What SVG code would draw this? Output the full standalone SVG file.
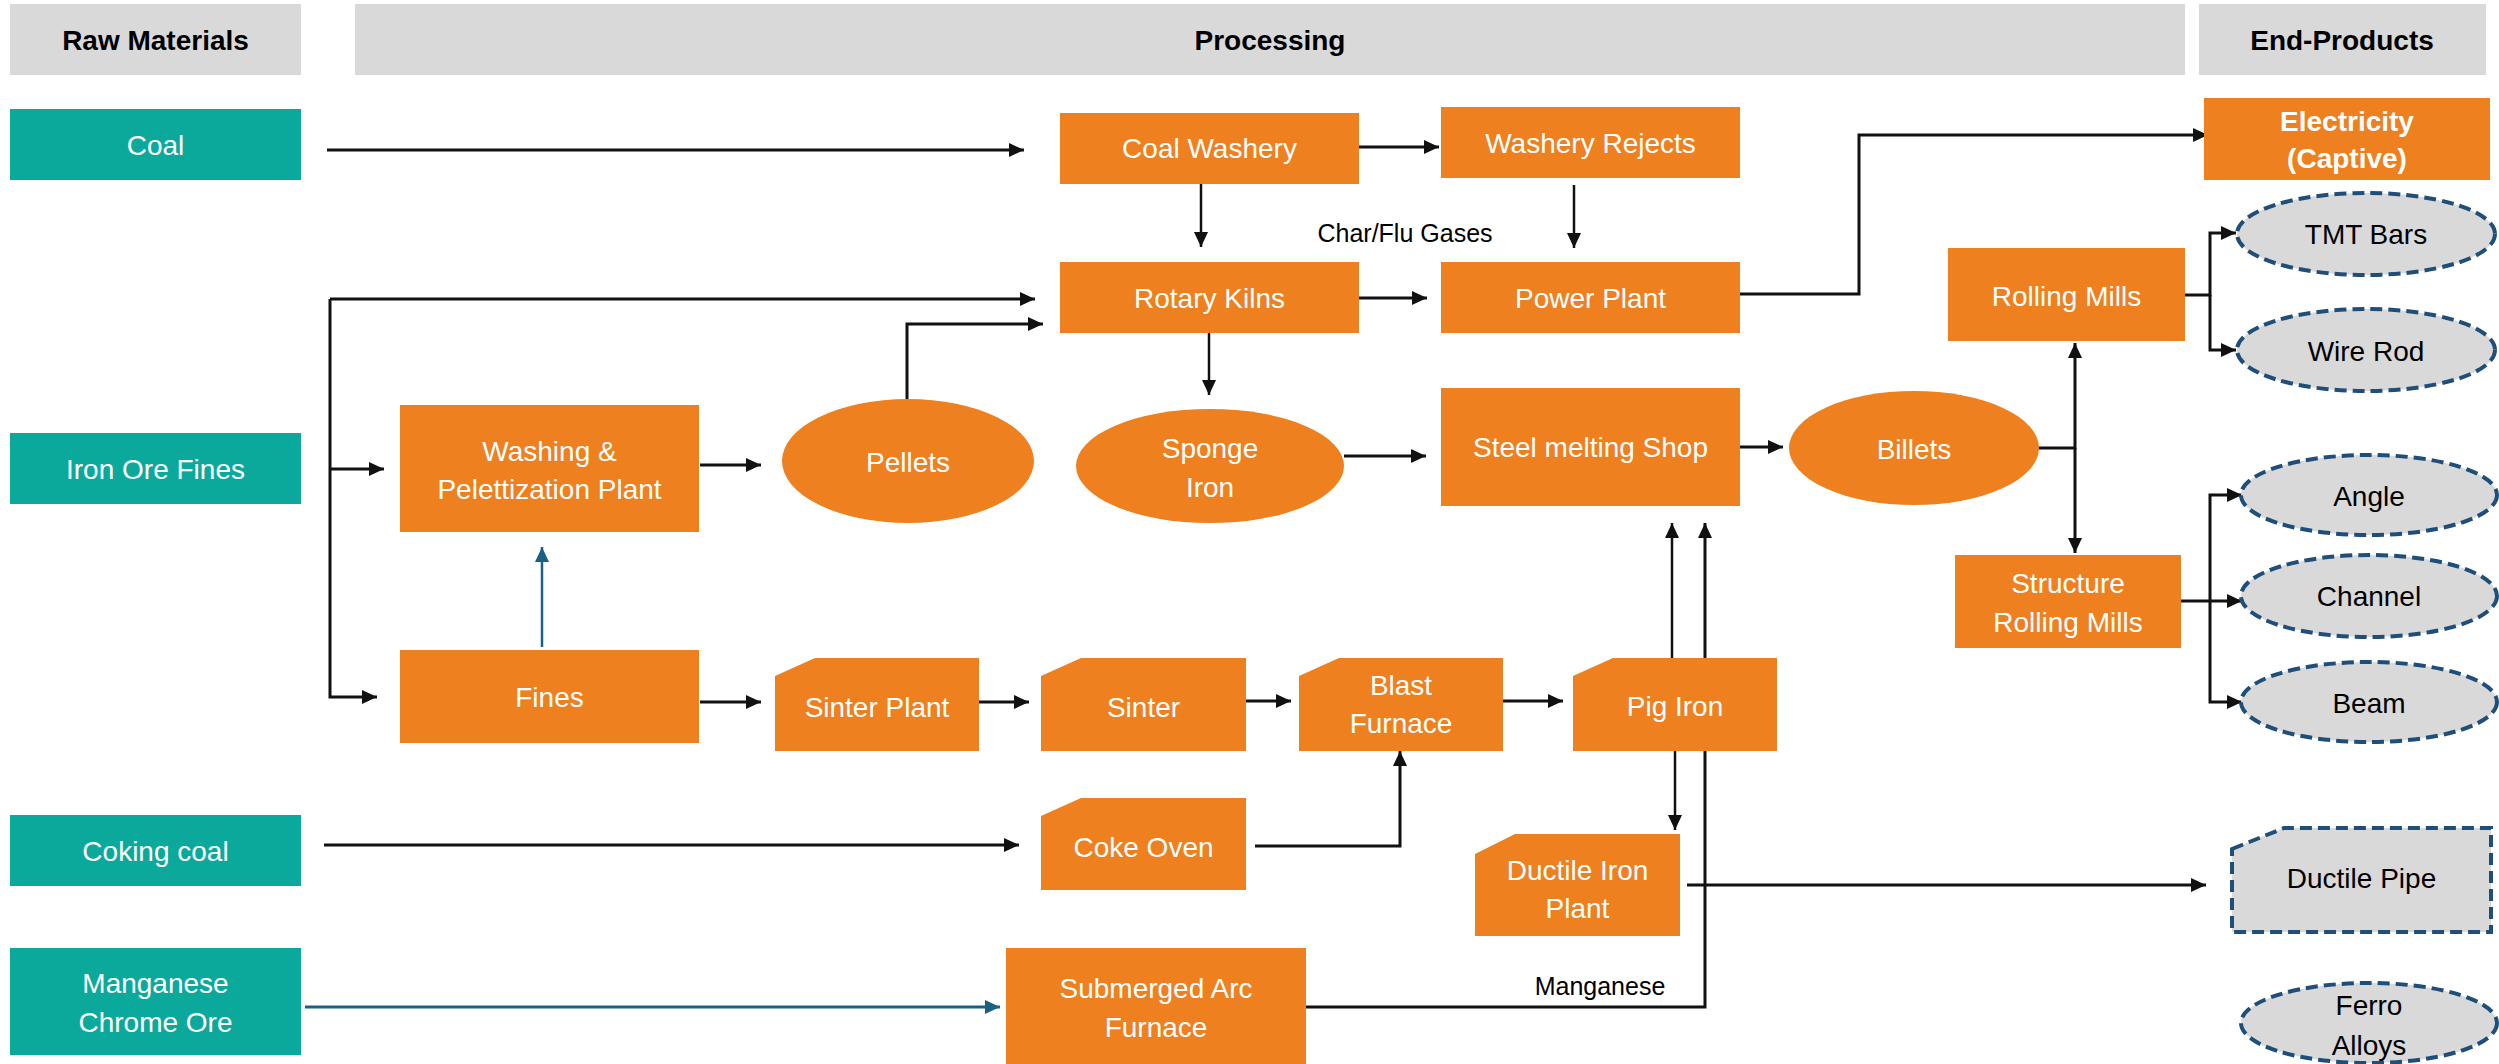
<svg xmlns="http://www.w3.org/2000/svg" width="2499" height="1064" viewBox="0 0 2499 1064">
<style>
.hdr{fill:#D9D9D9}
.raw{fill:#0BA99C}
.proc{fill:#EE801F}
.prod{fill:#D9D9D9;stroke:#1F4E79;stroke-width:4;stroke-dasharray:12 6}
text{font-family:"Liberation Sans",Arial,sans-serif;font-size:28px;text-anchor:middle}
.w{fill:#FFFFFF}
.k{fill:#000000}
.b{font-weight:bold}
.sm{font-size:25px}
.c{fill:none;stroke:#111111;stroke-width:3}
.cb{fill:none;stroke:#1B6184;stroke-width:3}
</style>
<defs>
<marker id="ah" markerUnits="userSpaceOnUse" markerWidth="16" markerHeight="14" refX="15" refY="7" orient="auto">
<path d="M0,0 L15,7 L0,14 z" fill="#111111"/>
</marker>
<marker id="ahb" markerUnits="userSpaceOnUse" markerWidth="16" markerHeight="14" refX="15" refY="7" orient="auto">
<path d="M0,0 L15,7 L0,14 z" fill="#1B6184"/>
</marker>
</defs>
<rect width="2499" height="1064" fill="#FFFFFF"/>

<g id="connectors">
<path class="c" d="M327,150 H1024" marker-end="url(#ah)"/>
<path class="c" d="M1359,147 H1439" marker-end="url(#ah)"/>
<path class="c" style="stroke-width:2.5" d="M1201,184 V247" marker-end="url(#ah)"/>
<path class="c" style="stroke-width:2.5" d="M1574,185 V248" marker-end="url(#ah)"/>
<path class="c" d="M1359,298 H1427" marker-end="url(#ah)"/>
<path class="c" d="M1740,294 H1859 V135 H2208" marker-end="url(#ah)"/>
<path class="c" style="stroke-width:2.5" d="M1209,333 V395" marker-end="url(#ah)"/>
<path class="c" d="M1344,456 H1426" marker-end="url(#ah)"/>
<path class="c" d="M1740,447 H1783" marker-end="url(#ah)"/>
<path class="c" d="M2031,448 H2075 V343" marker-end="url(#ah)"/>
<path class="c" d="M2075,448 V553" marker-end="url(#ah)"/>
<path class="c" d="M2185,295 H2210 V233 H2236" marker-end="url(#ah)"/>
<path class="c" d="M2210,295 V350 H2236" marker-end="url(#ah)"/>
<path class="c" d="M2181,601 H2242" marker-end="url(#ah)"/>
<path class="c" d="M2210,601 V495 H2242" marker-end="url(#ah)"/>
<path class="c" d="M2210,601 V702 H2242" marker-end="url(#ah)"/>
<path class="c" d="M330,299 H1035" marker-end="url(#ah)"/>
<path class="c" d="M330,299 V697 H377" marker-end="url(#ah)"/>
<path class="c" d="M330,469 H384" marker-end="url(#ah)"/>
<path class="c" d="M907,399 V324 H1043" marker-end="url(#ah)"/>
<path class="c" d="M700,465 H761" marker-end="url(#ah)"/>
<path class="cb" style="stroke-width:2.5" d="M542,647 V547" marker-end="url(#ahb)"/>
<path class="c" d="M700,702 H761" marker-end="url(#ah)"/>
<path class="c" d="M979,702 H1029" marker-end="url(#ah)"/>
<path class="c" d="M1246,701 H1291" marker-end="url(#ah)"/>
<path class="c" d="M1503,701 H1563" marker-end="url(#ah)"/>
<path class="c" style="stroke-width:2.5" d="M1672,658 V523" marker-end="url(#ah)"/>
<path class="c" style="stroke-width:2.5" d="M1675,751 V830" marker-end="url(#ah)"/>
<path class="c" d="M1306,1007 H1705 V523" marker-end="url(#ah)"/>
<path class="c" d="M1687,885 H2206" marker-end="url(#ah)"/>
<path class="c" d="M1255,846 H1400 V751" marker-end="url(#ah)"/>
<path class="c" d="M324,845 H1019" marker-end="url(#ah)"/>
<path class="cb" d="M305,1007 H1000" marker-end="url(#ahb)"/>
<text class="k sm" x="1405" y="242">Char/Flu Gases</text>
<text class="k sm" x="1600" y="995">Manganese</text>
</g>

<g id="hdr-raw"><rect class="hdr" x="10" y="4" width="291" height="71"/><text class="k b" x="155.5" y="50">Raw Materials</text></g>
<g id="hdr-proc"><rect class="hdr" x="355" y="4" width="1830" height="71"/><text class="k b" x="1270" y="50">Processing</text></g>
<g id="hdr-prod"><rect class="hdr" x="2199" y="4" width="287" height="71"/><text class="k b" x="2342" y="50">End-Products</text></g>

<g id="coal"><rect class="raw" x="10" y="109" width="291" height="71"/><text class="w" x="155.5" y="155">Coal</text></g>
<g id="iron-ore"><rect class="raw" x="10" y="433" width="291" height="71"/><text class="w" x="155.5" y="479">Iron Ore Fines</text></g>
<g id="coking-coal"><rect class="raw" x="10" y="815" width="291" height="71"/><text class="w" x="155.5" y="861">Coking coal</text></g>
<g id="mn-ore"><rect class="raw" x="10" y="948" width="291" height="107"/><text class="w" x="155.5" y="993">Manganese</text><text class="w" x="155.5" y="1032">Chrome Ore</text></g>

<g id="coal-washery"><rect class="proc" x="1060" y="113" width="299" height="71"/><text class="w" x="1209.5" y="158">Coal Washery</text></g>
<g id="washery-rejects"><rect class="proc" x="1441" y="107" width="299" height="71"/><text class="w" x="1590.5" y="153">Washery Rejects</text></g>
<g id="rotary-kilns"><rect class="proc" x="1060" y="262" width="299" height="71"/><text class="w" x="1209.5" y="308">Rotary Kilns</text></g>
<g id="power-plant"><rect class="proc" x="1441" y="262" width="299" height="71"/><text class="w" x="1590.5" y="308">Power Plant</text></g>
<g id="electricity"><rect class="proc" x="2204" y="98" width="286" height="82"/><text class="w b" x="2347" y="131">Electricity</text><text class="w b" x="2347" y="168">(Captive)</text></g>

<g id="washing"><rect class="proc" x="400" y="405" width="299" height="127"/><text class="w" x="549.5" y="461">Washing &amp;</text><text class="w" x="549.5" y="499">Pelettization Plant</text></g>
<g id="pellets"><ellipse class="proc" cx="908" cy="461" rx="126" ry="62"/><text class="w" x="908" y="472">Pellets</text></g>
<g id="sponge-iron"><ellipse class="proc" cx="1210" cy="466" rx="134" ry="57"/><text class="w" x="1210" y="458">Sponge</text><text class="w" x="1210" y="497">Iron</text></g>
<g id="steel-melting"><rect class="proc" x="1441" y="388" width="299" height="118"/><text class="w" x="1590.5" y="457">Steel melting Shop</text></g>
<g id="billets"><ellipse class="proc" cx="1914" cy="448" rx="125" ry="57"/><text class="w" x="1914" y="459">Billets</text></g>
<g id="rolling-mills"><rect class="proc" x="1948" y="248" width="237" height="93"/><text class="w" x="2066.5" y="306">Rolling Mills</text></g>
<g id="structure-mills"><rect class="proc" x="1955" y="555" width="226" height="93"/><text class="w" x="2068" y="593">Structure</text><text class="w" x="2068" y="632">Rolling Mills</text></g>

<g id="fines"><rect class="proc" x="400" y="650" width="299" height="93"/><text class="w" x="549.5" y="707">Fines</text></g>
<g id="sinter-plant"><path class="proc" d="M775,676 L815,658 H979 V751 H775 Z"/><text class="w" x="877" y="717">Sinter Plant</text></g>
<g id="sinter"><path class="proc" d="M1041,676 L1081,658 H1246 V751 H1041 Z"/><text class="w" x="1143.5" y="717">Sinter</text></g>
<g id="blast-furnace"><path class="proc" d="M1299,676 L1339,658 H1503 V751 H1299 Z"/><text class="w" x="1401" y="695">Blast</text><text class="w" x="1401" y="733">Furnace</text></g>
<g id="pig-iron"><path class="proc" d="M1573,676 L1613,658 H1777 V751 H1573 Z"/><text class="w" x="1675" y="716">Pig Iron</text></g>
<g id="coke-oven"><path class="proc" d="M1041,816 L1081,798 H1246 V890 H1041 Z"/><text class="w" x="1143.5" y="857">Coke Oven</text></g>
<g id="ductile-plant"><path class="proc" d="M1475,854 L1515,834 H1680 V936 H1475 Z"/><text class="w" x="1577.5" y="880">Ductile Iron</text><text class="w" x="1577.5" y="918">Plant</text></g>
<g id="saf"><rect class="proc" x="1006" y="948" width="300" height="120"/><text class="w" x="1156" y="998">Submerged Arc</text><text class="w" x="1156" y="1037">Furnace</text></g>

<g id="tmt"><ellipse class="prod" cx="2366" cy="234" rx="129" ry="41"/><text class="k" x="2366" y="244">TMT Bars</text></g>
<g id="wire-rod"><ellipse class="prod" cx="2366" cy="350" rx="129" ry="41"/><text class="k" x="2366" y="361">Wire Rod</text></g>
<g id="angle"><ellipse class="prod" cx="2369" cy="495" rx="128" ry="40"/><text class="k" x="2369" y="506">Angle</text></g>
<g id="channel"><ellipse class="prod" cx="2369" cy="596" rx="128" ry="41"/><text class="k" x="2369" y="606">Channel</text></g>
<g id="beam"><ellipse class="prod" cx="2369" cy="702" rx="128" ry="40"/><text class="k" x="2369" y="713">Beam</text></g>
<g id="ductile-pipe"><path class="prod" d="M2232,849 L2284,828 H2491 V932 H2232 Z"/><text class="k" x="2361.5" y="888">Ductile Pipe</text></g>
<g id="ferro-alloys"><ellipse class="prod" cx="2369" cy="1023" rx="128" ry="40"/><text class="k" x="2369" y="1015">Ferro</text><text class="k" x="2369" y="1055">Alloys</text></g>
</svg>
